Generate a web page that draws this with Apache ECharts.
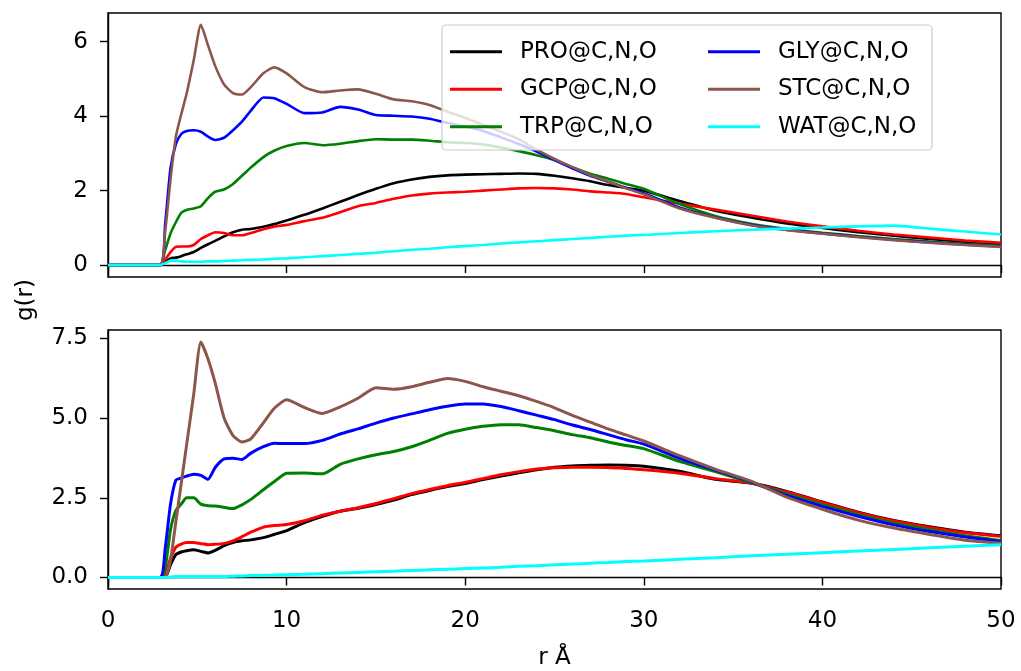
<!DOCTYPE html>
<html><head><meta charset="utf-8">
<script src="https://cdn.jsdelivr.net/npm/echarts@6/dist/echarts.min.js"></script>
<style>html,body{margin:0;padding:0;background:#fff}#c{width:1021px;height:671px}</style>
</head><body><div id="c"></div>
<script>
const R = [0, 2.9, 3.2, 3.5, 3.8, 4.1, 4.4, 4.8, 5.2, 5.6, 6.0, 6.5, 7.0, 7.5, 8.0, 8.7, 9.3, 10,
  11, 12, 13, 14, 15, 16, 17, 18, 19, 20, 21, 22, 23, 24, 25, 26, 27, 28, 29, 30,
  32, 34, 36, 38, 40, 42, 44, 46, 48, 50];

const NAMES = ['PRO@C,N,O','GCP@C,N,O','TRP@C,N,O','GLY@C,N,O','STC@C,N,O','WAT@C,N,O'];
const COLORS = ['#000000','#ff0000','#008000','#0000ff','#8c564b','#00ffff'];

// Top panel
const TOP_PRO = [0,0,0.08,0.18,0.2,0.24,0.29,0.35,0.46,0.56, 0.65,0.77,0.88,0.95,0.97,1.03,1.1,1.2,
  1.35,1.52,1.7,1.88,2.05,2.2,2.3,2.37,2.41,2.43, 2.44,2.45,2.46,2.45,2.4,2.33,2.25,2.15,2.07,2.0,
  1.72,1.46,1.28,1.12,1.0,0.88,0.79,0.7,0.62,0.55];
const TOP_GCP = [0,0,0.15,0.35,0.49,0.5,0.5,0.54,0.7,0.8, 0.88,0.86,0.8,0.8,0.86,0.96,1.03,1.08,
  1.18,1.27,1.42,1.58,1.67,1.78,1.87,1.92,1.95,1.97, 2.0,2.03,2.06,2.07,2.06,2.03,1.98,1.95,1.91,1.82,
  1.65,1.49,1.33,1.17,1.04,0.92,0.82,0.74,0.66,0.6];
const TOP_TRP = [0,0,0.4,0.85,1.15,1.4,1.48,1.52,1.58,1.8, 1.97,2.03,2.18,2.4,2.62,2.9,3.07,3.2,
  3.28,3.22,3.26,3.33,3.38,3.37,3.37,3.34,3.3,3.28, 3.24,3.16,3.06,2.95,2.82,2.63,2.45,2.32,2.18,2.05,
  1.64,1.32,1.11,0.97,0.87,0.78,0.7,0.63,0.57,0.52];
const TOP_GLY = [0,0,1.1,2.6,3.25,3.52,3.6,3.62,3.58,3.45, 3.36,3.42,3.62,3.85,4.15,4.5,4.48,4.33,
  4.08,4.1,4.25,4.18,4.03,4.01,3.99,3.93,3.82,3.72, 3.6,3.43,3.25,3.05,2.82,2.6,2.4,2.24,2.08,1.93,
  1.55,1.28,1.08,0.95,0.85,0.76,0.68,0.61,0.55,0.5];
const TOP_STC = [0,0,0.9,2.3,3.45,4.05,4.6,5.5,6.45,5.9, 5.35,4.85,4.62,4.58,4.78,5.15,5.31,5.15,
  4.78,4.64,4.69,4.72,4.6,4.45,4.4,4.3,4.12,3.95, 3.77,3.58,3.38,3.1,2.85,2.63,2.42,2.24,2.06,1.9,
  1.52,1.27,1.07,0.94,0.84,0.75,0.67,0.6,0.54,0.49];
const TOP_WAT = [0,0,0.05,0.12,0.12,0.1,0.09,0.09,0.09,0.1, 0.1,0.11,0.12,0.13,0.14,0.15,0.17,0.18,
  0.21,0.24,0.27,0.3,0.33,0.37,0.41,0.44,0.48,0.51, 0.54,0.58,0.61,0.64,0.67,0.7,0.73,0.76,0.79,0.81,
  0.86,0.91,0.95,0.98,1.01,1.04,1.06,0.98,0.9,0.82];

// Bottom panel
const BOT_PRO = [0,0,0,0.4,0.72,0.8,0.84,0.87,0.82,0.77, 0.85,1.0,1.1,1.15,1.18,1.25,1.35,1.47,
  1.72,1.92,2.08,2.17,2.29,2.43,2.6,2.73,2.85,2.95, 3.07,3.18,3.28,3.38,3.46,3.5,3.52,3.53,3.52,3.49,
  3.33,3.08,2.96,2.7,2.37,2.05,1.79,1.59,1.42,1.31];
const BOT_GCP = [0,0,0.1,0.6,0.95,1.05,1.1,1.1,1.06,1.03, 1.04,1.07,1.15,1.28,1.42,1.58,1.63,1.66,
  1.78,1.95,2.08,2.19,2.32,2.47,2.63,2.76,2.88,2.98, 3.1,3.22,3.32,3.4,3.44,3.46,3.46,3.45,3.42,3.38,
  3.27,3.1,2.96,2.68,2.35,2.03,1.77,1.57,1.4,1.29];
const BOT_TRP = [0,0,0.3,1.5,2.1,2.3,2.5,2.5,2.3,2.25, 2.24,2.2,2.16,2.28,2.45,2.75,3.0,3.27,
  3.28,3.25,3.55,3.72,3.85,3.95,4.1,4.3,4.52,4.65, 4.74,4.79,4.79,4.7,4.6,4.48,4.38,4.25,4.14,4.04,
  3.64,3.32,2.98,2.62,2.28,1.97,1.7,1.5,1.31,1.16];
const BOT_GLY = [0,0,0.9,2.3,3.05,3.12,3.18,3.24,3.2,3.08, 3.45,3.72,3.74,3.7,3.9,4.1,4.21,4.2,
  4.2,4.3,4.5,4.66,4.84,5.0,5.13,5.26,5.37,5.44, 5.44,5.36,5.23,5.09,4.95,4.78,4.64,4.48,4.32,4.18,
  3.74,3.37,3.0,2.57,2.23,1.92,1.65,1.44,1.27,1.12];
const BOT_STC = [0,0,0,0.55,1.75,2.95,4.15,5.75,7.38,6.85, 6.1,5.0,4.45,4.25,4.35,4.85,5.3,5.57,
  5.33,5.14,5.35,5.62,5.95,5.9,5.98,6.12,6.24,6.15, 5.98,5.84,5.7,5.52,5.32,5.08,4.87,4.66,4.47,4.28,
  3.82,3.4,3.02,2.52,2.14,1.8,1.55,1.35,1.17,1.08];
const BOT_WAT = [0,0,0,0.02,0.03,0.03,0.03,0.03,0.03,0.03, 0.03,0.03,0.04,0.05,0.06,0.07,0.08,0.09,
  0.1,0.12,0.14,0.16,0.18,0.2,0.22,0.24,0.26,0.28, 0.3,0.32,0.35,0.37,0.4,0.42,0.45,0.47,0.5,0.52,
  0.57,0.62,0.68,0.73,0.78,0.83,0.88,0.93,0.98,1.03];

const TOP_Y_TICKS = [0, 2, 4, 6];
const BOT_Y_TICKS = [0, 2.5, 5, 7.5];
const X_LABEL = 'r Å';
const Y_LABEL = 'g(r)';

const TOP = [TOP_PRO, TOP_GCP, TOP_TRP, TOP_GLY, TOP_STC, TOP_WAT];
const BOT = [BOT_PRO, BOT_GCP, BOT_TRP, BOT_GLY, BOT_STC, BOT_WAT];

const FONT = 'DejaVu Sans';
const FS = 23;
const pairs = ys => R.map((r, i) => [r, ys[i]]);

const series = [];
TOP.forEach((ys, i) => series.push({
  type: 'line', name: NAMES[i], xAxisIndex: 0, yAxisIndex: 0, data: pairs(ys),
  showSymbol: false, symbol: 'none', smooth: 0.2,
  lineStyle: { color: COLORS[i], width: 2.6 }, itemStyle: { color: COLORS[i] }
}));
BOT.forEach((ys, i) => series.push({
  type: 'line', name: NAMES[i], xAxisIndex: 1, yAxisIndex: 1, data: pairs(ys),
  showSymbol: false, symbol: 'none', smooth: 0.2,
  lineStyle: { color: COLORS[i], width: 3 }, itemStyle: { color: COLORS[i] }
}));

const axLine = { lineStyle: { color: '#000', width: 1.4 } };
const tick = { show: true, length: 8, lineStyle: { color: '#000', width: 1.4 } };
const lbl = { color: '#000', fontSize: FS, fontFamily: FONT };

const legendCommon = {
  orient: 'vertical', icon: 'rect', itemWidth: 52, itemHeight: 3, itemGap: 10.5,
  padding: 0, top: 38.2, z: 10, selectedMode: false,
  textStyle: { fontSize: FS, color: '#000', fontFamily: FONT, lineHeight: 27, padding: [0, 0, 0, 13] }
};

const option = {
  animation: false,
  backgroundColor: '#fff',
  grid: [
    { left: 108, top: 13, width: 893, height: 264, show: true, borderColor: '#000', borderWidth: 1.4, backgroundColor: 'transparent' },
    { left: 108, top: 330, width: 893, height: 263, show: true, borderColor: '#000', borderWidth: 1.4, backgroundColor: 'transparent' }
  ],
  xAxis: [
    { gridIndex: 0, type: 'value', min: 0, max: 50, interval: 10,
      axisLine: axLine, axisTick: tick, axisLabel: { show: false }, splitLine: { show: false } },
    { gridIndex: 1, type: 'value', min: 0, max: 50, interval: 10,
      axisLine: axLine, axisTick: tick, axisLabel: Object.assign({ margin: 21 }, lbl), splitLine: { show: false },
      name: X_LABEL, nameLocation: 'middle', nameGap: 58, nameTextStyle: lbl }
  ],
  yAxis: [
    { gridIndex: 0, type: 'value', min: -0.32, max: 6.77,
      axisLine: Object.assign({ show: true }, axLine),
      axisTick: Object.assign({ customValues: TOP_Y_TICKS }, tick),
      axisLabel: Object.assign({ customValues: TOP_Y_TICKS, margin: 20, formatter: v => String(Math.round(v)) }, lbl),
      splitLine: { show: false } },
    { gridIndex: 1, type: 'value', min: -0.36, max: 7.76,
      axisLine: Object.assign({ show: true }, axLine),
      axisTick: Object.assign({ customValues: BOT_Y_TICKS }, tick),
      axisLabel: Object.assign({ customValues: BOT_Y_TICKS, margin: 20, formatter: v => Number(v).toFixed(1) }, lbl),
      splitLine: { show: false } }
  ],
  legend: [
    Object.assign({ data: NAMES.slice(0, 3), left: 450 }, legendCommon),
    Object.assign({ data: NAMES.slice(3), left: 708 }, legendCommon)
  ],
  graphic: [
    { type: 'rect', z: 5, shape: { x: 442, y: 25, width: 490, height: 125, r: 4 },
      style: { fill: 'rgba(255,255,255,0.8)', stroke: '#cccccc', lineWidth: 1.2 } },
    { type: 'text', x: 26, y: 300, rotation: Math.PI / 2, z: 10,
      style: { text: Y_LABEL, fontSize: FS, fontFamily: FONT, fill: '#000', align: 'center', verticalAlign: 'middle' } }
  ],
  series: series
};

const chart = echarts.init(document.getElementById('c'), null, { renderer: 'canvas' });
chart.setOption(option);
</script>
</body></html>
